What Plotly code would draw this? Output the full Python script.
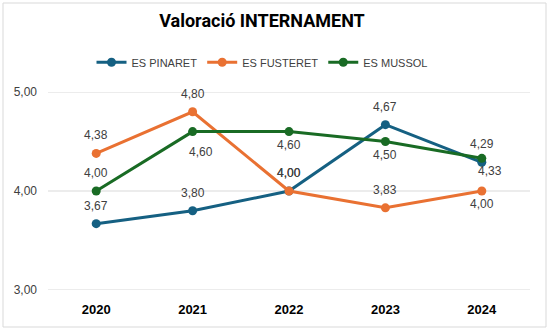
import plotly.graph_objects as go

years = ["2020", "2021", "2022", "2023", "2024"]
pinaret = [3.67, 3.80, 4.00, 4.67, 4.29]
fusteret = [4.38, 4.80, 4.00, 3.83, 4.00]
mussol = [4.00, 4.60, 4.60, 4.50, 4.33]
series_names = ["ES PINARET", "ES FUSTERET", "ES MUSSOL"]
colors = ["#156082", "#E97132", "#196B24"]
# label placement: +1 above, -1 below
pin_pos = [1, 1, 1, 1, 1]
fus_pos = [1, 1, 1, 1, -1]
mus_pos = [1, -1, -1, -1, -1]
y_ticks = [3, 4, 5]

def fmt(v):
    return f"{v:.2f}".replace(".", ",")

fig = go.Figure()
all_series = [pinaret, fusteret, mussol]
all_pos = [pin_pos, fus_pos, mus_pos]
for name, vals, col in zip(series_names, all_series, colors):
    fig.add_trace(go.Scatter(
        x=years, y=vals, name=name, mode="lines+markers",
        line=dict(color=col, width=3), marker=dict(color=col, size=9),
        hoverinfo="skip"))

annotations = []
for si, (vals, pos) in enumerate(zip(all_series, all_pos)):
    for i, (v, p) in enumerate(zip(vals, pos)):
        shift = 18 if p > 0 else -13
        xs = 0
        if si == 2 and i == 1:
            shift = -20
            xs = 8
        if si == 2 and i == 4:
            xs = 8
        annotations.append(dict(x=i, y=v, xref="x", yref="y", text=fmt(v), showarrow=False,
                                yshift=shift, xshift=xs,
                                font=dict(family="Liberation Sans, Arial", size=12, color="#404040")))

shapes = [dict(type="rect", xref="paper", yref="paper",
               x0=(3 - 48) / 482, x1=(546 - 48) / 482,
               y0=(290 - 327) / 198, y1=(290 - 3) / 198,
               line=dict(color="#d9d9d9", width=1), fillcolor="rgba(0,0,0,0)", layer="below")]
for t in y_ticks:
    shapes.append(dict(type="line", xref="paper", yref="y", x0=0, x1=1, y0=t, y1=t,
                       line=dict(color="#d9d9d9", width=1), layer="below"))

fig.update_layout(
    width=549, height=330,
    margin=dict(l=48, r=19, t=92, b=40),
    paper_bgcolor="white", plot_bgcolor="white",
    title=dict(text="<b>Valoració INTERNAMENT</b>", x=262 / 549, xref="container",
               y=1 - 21 / 330, yref="container", yanchor="middle", xanchor="center",
               font=dict(family="Roboto", size=18, color="#000000")),
    legend=dict(orientation="h", x=0.444, xanchor="center", y=1.15, yanchor="middle",
                font=dict(family="Liberation Sans, Arial", size=11, color="#404040"),
                itemwidth=30, traceorder="normal"),
    xaxis=dict(type="category", range=[-0.5, 4.5], showgrid=False, showline=False,
               ticks="", ticklabelstandoff=10,
               tickfont=dict(family="Liberation Sans, Arial", size=13, color="#000000", weight="bold")),
    yaxis=dict(range=[3, 5], tickvals=y_ticks, ticktext=[fmt(v) for v in y_ticks],
               showgrid=False, zeroline=False,
               showline=False, ticks="", ticklabelstandoff=10,
               tickfont=dict(family="Liberation Sans, Arial", size=12, color="#404040")),
    annotations=annotations,
    shapes=shapes,
    showlegend=True,
)

fig.write_html("out.html")
